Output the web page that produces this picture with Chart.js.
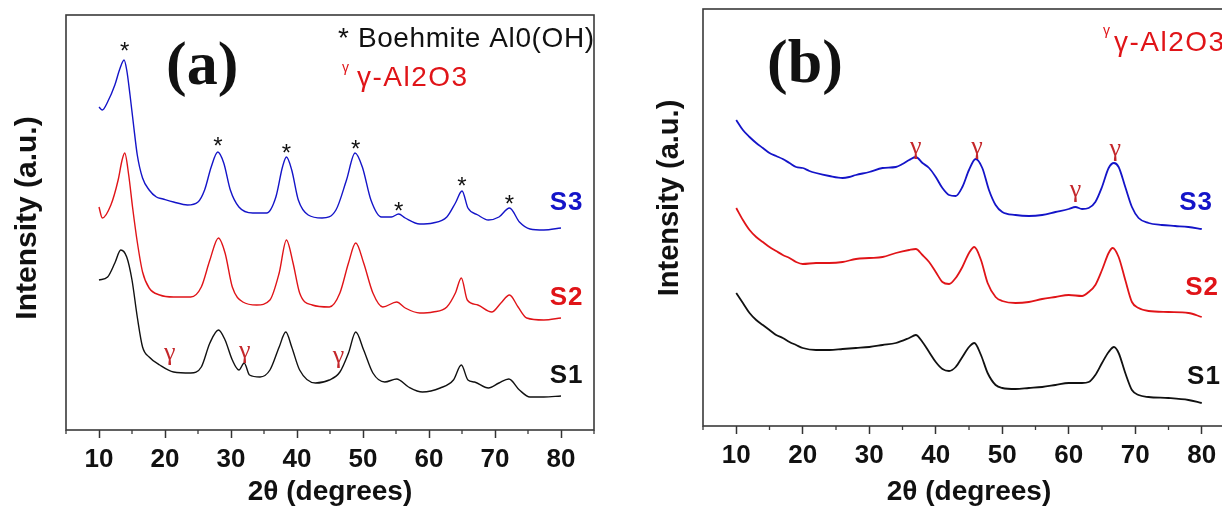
<!DOCTYPE html>
<html>
<head>
<meta charset="utf-8">
<script src="https://cdn.jsdelivr.net/npm/chart.js@4.4.1/dist/chart.umd.min.js"></script>
<style>
    html, body { margin: 0; padding: 0; background: #fff; overflow: hidden; }
    body { width: 1222px; height: 508px; position: relative; }
    #panel-a { position: absolute; left: 0; top: 0; width: 610px; height: 508px; }
    #panel-b { position: absolute; left: 600px; top: 0; width: 650px; height: 508px; }
</style>
</head>
<body>
<div id="panel-a"><canvas id="grafica-a"></canvas></div>
<div id="panel-b"><canvas id="grafica-b"></canvas></div>
<script>
// eje x comun
const ticksMayores = [10, 20, 30, 40, 50, 60, 70, 80];
const ticksMenores = [5, 15, 25, 35, 45, 55, 65, 75, 85];

// panel (a)
const aS3Ang = [10, 10.5, 11.3, 12.4, 13.1, 13.8, 14.2, 14.7, 15.2, 15.8, 16.6, 17.6, 18.7, 19.7, 21.3, 23.4, 25, 26, 27, 28, 28.9, 29.9, 31.2, 33.3, 35.4, 36.8, 37.8, 38.4, 39.2, 40.2, 41.7, 43.8, 45.9, 47.5, 48.8, 49.9, 51.2, 52.8, 54.3, 55.4, 56.4, 58.6, 60.6, 62.7, 64, 65, 65.9, 67.4, 69, 70.6, 72.2, 73.7, 75.3, 77.4, 80];
const aS3Int = [323, 320, 328, 345, 360, 370, 360, 335, 307, 275, 252, 240, 233, 231, 228, 225, 228, 240, 263, 278, 267, 240, 223, 217, 217, 233, 263, 273, 260, 230, 215, 212, 220, 250, 277, 263, 230, 213, 213, 216, 212, 206, 207, 213, 227, 239, 222, 215, 210, 213, 222, 208, 201, 200, 202];

const aS2Ang = [10, 10.5, 11.8, 12.9, 13.5, 13.9, 14.5, 15.1, 15.8, 16.6, 17.6, 19.2, 21.3, 23.9, 25.5, 26.8, 28.1, 29.1, 30.2, 31.8, 33.9, 35.9, 37.3, 38.4, 39.4, 40.4, 42.3, 44.9, 46.5, 47.8, 48.9, 50.1, 51.5, 53, 55.1, 56.4, 58.6, 60.6, 62.7, 64, 64.9, 65.8, 67.4, 69.5, 70.9, 72.2, 73.5, 74.8, 77.4, 80];
const aS2Int = [223, 212, 225, 250, 270, 277, 255, 222, 188, 158, 142, 135, 133, 133, 143, 170, 192, 177, 143, 128, 125, 130, 157, 190, 167, 137, 125, 123, 137, 167, 187, 167, 137, 123, 128, 122, 117, 118, 123, 137, 152, 130, 125, 118, 127, 135, 123, 112, 110, 112];

const aS1Ang = [10, 11.3, 12.4, 13.3, 14.2, 15, 15.8, 16.6, 17.6, 19.2, 21.3, 23.9, 25.5, 26.8, 28.1, 29.1, 30.2, 31.2, 32, 32.8, 34.4, 35.9, 37.3, 38.3, 39.2, 40.4, 42.8, 44.9, 46.5, 47.8, 48.9, 50.1, 51.5, 53.3, 55.1, 56.9, 59, 61.7, 63.7, 64.9, 65.9, 66.9, 69, 70.6, 72.1, 73.7, 75.3, 77.4, 80];
const aS1Int = [150, 153, 167, 180, 173, 150, 113, 83, 73, 65, 58, 57, 63, 87, 100, 90, 70, 60, 67, 55, 53, 60, 83, 98, 83, 60, 47, 50, 58, 77, 98, 80, 57, 48, 51, 43, 38, 42, 50, 65, 50, 48, 42, 47, 51, 40, 33, 33, 34];

const aBoehmiteAng = [13.9, 28.0, 38.4, 48.9, 55.4, 65.0, 72.2];
const aBoehmiteInt = [385, 290, 283, 287, 225, 250, 232];
const aGammaAng = [20.7, 32.1, 46.3];
const aGammaInt = [77, 79, 74];

// panel (b)
const bS3Ang = [10, 11, 12, 13, 14, 15, 16, 17, 18, 19, 20, 21, 22, 24, 26, 27, 28, 30, 32, 34, 35, 36, 37, 38, 39, 40, 41, 42, 43, 44, 45, 46, 47, 48, 49, 50, 52, 54, 56, 58, 60, 61, 62, 63, 64, 65, 66, 66.8, 67.5, 68.5, 69.5, 70.5, 72, 74, 76, 78, 80];
const bS3Int = [306, 296, 289, 283, 278, 273, 270, 267, 263, 259, 258, 255, 253, 250, 248, 249, 251, 254, 258, 259, 262, 266, 269, 263, 258, 249, 238, 231, 230, 239, 256, 267, 258, 236, 221, 214, 211, 210, 211, 214, 217, 219, 217, 218, 224, 239, 258, 263, 259, 239, 219, 208, 203, 201, 200, 199, 197];

const bS2Ang = [10, 11, 12, 13, 14, 15, 16, 17, 18, 19, 20, 22, 24, 26, 28, 30, 32, 34, 36, 37, 38, 39, 40, 41, 42, 43, 44, 45, 45.8, 46.8, 47.8, 49, 50, 52, 54, 56, 58, 60, 62, 63, 64, 65, 66, 66.6, 67.5, 68.5, 69.5, 70.5, 72, 75, 78, 80];
const bS2Int = [218, 206, 196, 189, 184, 179, 175, 171, 168, 164, 162, 163, 163, 164, 167, 168, 169, 173, 176, 177, 171, 164, 154, 144, 142, 148, 159, 173, 179, 166, 143, 129, 125, 123, 124, 127, 129, 131, 130, 134, 141, 156, 173, 178, 169, 146, 124, 118, 115, 114, 113, 109];

const bS1Ang = [10, 11, 12, 13, 14, 15, 16, 17, 18, 19, 20, 22, 24, 26, 28, 30, 32, 34, 36, 37, 38, 39, 40, 41, 42, 43, 44, 45, 45.8, 46.8, 47.8, 49, 50, 52, 54, 56, 58, 60, 62, 63, 64, 65, 66, 66.8, 67.5, 68.5, 69.5, 70.5, 72, 75, 78, 80];
const bS1Int = [133, 123, 113, 106, 101, 96, 91, 88, 84, 81, 78, 76, 76, 77, 78, 79, 81, 83, 88, 91, 84, 74, 64, 57, 55, 59, 69, 79, 83, 71, 53, 41, 38, 37, 38, 39, 41, 43, 43, 44, 51, 63, 74, 79, 73, 53, 36, 31, 29, 28, 26, 23];

const bGammaAng = [37.0, 46.2, 61.0, 67.0];
const bGammaInt = [279, 279, 236, 277];

const AZUL = '#1414c8';
const ROJO = '#e01418';
const NEGRO = '#111111';
const SANS = '"Liberation Sans", Arial, sans-serif';
const SERIF = '"Liberation Serif", "Times New Roman", serif';

function puntos(ang, int) {
    return ang.map((a, i) => ({ x: a, y: int[i] }));
}

function serie(ang, int, color, ancho) {
    return {
        data: puntos(ang, int),
        borderColor: color,
        borderWidth: ancho,
        pointRadius: 0,
        cubicInterpolationMode: 'monotone',
        fill: false
    };
}

// marco, ticks menores, titulo y y textos sobre el grafico
function decoracion(cfg) {
    return {
        id: 'decoracion',
        afterDatasetsDraw(chart) {
            const { ctx, chartArea: a } = chart;
            const sx = chart.scales.x, sy = chart.scales.y;
            ctx.save();
            ctx.strokeStyle = '#3a3a3a';
            ctx.lineWidth = 1.6;
            ctx.strokeRect(a.left, a.top, a.right - a.left, a.bottom - a.top);
            ctx.lineWidth = 1.3;
            ticksMenores.forEach(v => {
                const px = sx.getPixelForValue(v);
                ctx.beginPath();
                ctx.moveTo(px, a.bottom);
                ctx.lineTo(px, a.bottom + 4);
                ctx.stroke();
            });

            // titulo eje y
            ctx.save();
            ctx.translate(cfg.yTitulo.x, cfg.yTitulo.y);
            ctx.rotate(-Math.PI / 2);
            ctx.font = 'bold ' + cfg.yTitulo.size + 'px ' + SANS;
            ctx.fillStyle = NEGRO;
            ctx.textAlign = 'center';
            ctx.textBaseline = 'middle';
            ctx.fillText('Intensity (a.u.)', 0, 0);
            ctx.restore();

            // marcas sobre picos y etiquetas de serie (coordenadas de datos)
            cfg.marcas.forEach(m => {
                ctx.font = m.font;
                ctx.fillStyle = m.color;
                ctx.textAlign = m.align || 'center';
                ctx.textBaseline = 'middle';
                ctx.letterSpacing = m.espacio || '0px';
                m.ang.forEach((ang, i) => {
                    ctx.fillText(m.texto, sx.getPixelForValue(ang), sy.getPixelForValue(m.int[i]));
                });
            });

            // textos fijos (leyenda, letra del panel)
            cfg.textos.forEach(t => {
                ctx.font = t.font;
                ctx.fillStyle = t.color;
                ctx.textAlign = 'left';
                ctx.textBaseline = 'alphabetic';
                ctx.letterSpacing = t.espacio || '0px';
                ctx.fillText(t.texto, t.x, t.y);
            });
            ctx.restore();
        }
    };
}

function crearGrafica(id, datasets, yMax, ejeY, ejeX, padding, cfg) {
    const ctx = document.getElementById(id);
    return new Chart(ctx, {
        type: 'line',
        data: { datasets },
        options: {
            responsive: true,
            maintainAspectRatio: false,
            animation: false,
            layout: { padding },
            plugins: {
                legend: { display: false },
                tooltip: { enabled: false }
            },
            scales: {
                x: {
                    type: 'linear',
                    min: 5,
                    max: 85,
                    afterBuildTicks: s => { s.ticks = ticksMayores.map(v => ({ value: v })); },
                    afterFit: s => { s.height = ejeX; },
                    ticks: {
                        font: { family: SANS, size: 26, weight: 'bold' },
                        color: NEGRO,
                        padding: 6,
                        maxRotation: 0,
                        autoSkip: false
                    },
                    grid: {
                        display: true,
                        drawOnChartArea: false,
                        drawTicks: true,
                        tickLength: 8,
                        tickColor: '#333',
                        tickWidth: 1.5
                    },
                    border: { display: false },
                    title: {
                        display: true,
                        text: '2θ (degrees)',
                        color: NEGRO,
                        font: { family: SANS, size: 28, weight: 'bold', lineHeight: 1.1 },
                        padding: { top: 0, bottom: 0 }
                    }
                },
                y: {
                    type: 'linear',
                    min: 0,
                    max: yMax,
                    afterFit: s => { s.width = ejeY; },
                    ticks: { display: false },
                    grid: { display: false },
                    border: { display: false }
                }
            }
        },
        plugins: [decoracion(cfg)]
    });
}

const marcaS = 'bold 26px ' + SANS;

crearGrafica('grafica-a', [
    serie(aS3Ang, aS3Int, AZUL, 1.4),
    serie(aS2Ang, aS2Int, ROJO, 1.4),
    serie(aS1Ang, aS1Int, NEGRO, 1.4)
], 415, 66, 78, { top: 15, right: 16, bottom: 0, left: 0 }, {
    yTitulo: { x: 28, y: 218, size: 30 },
    marcas: [
        { texto: '*', ang: aBoehmiteAng, int: aBoehmiteInt.map(v => v - 7), font: '24px ' + SANS, color: NEGRO },
        { texto: 'γ', ang: aGammaAng, int: aGammaInt, font: '26px ' + SERIF, color: '#c4262a' },
        { texto: 'S3', ang: [78.3], int: [227], font: marcaS, color: AZUL, align: 'left', espacio: '1px' },
        { texto: 'S2', ang: [78.3], int: [132], font: marcaS, color: ROJO, align: 'left', espacio: '1px' },
        { texto: 'S1', ang: [78.3], int: [54], font: marcaS, color: NEGRO, align: 'left', espacio: '1px' }
    ],
    textos: [
        { texto: '(a)', x: 166, y: 84, font: 'bold 62px ' + SERIF, color: NEGRO },
        { texto: '* Boehmite Al0(OH)', x: 338, y: 47, font: '28px ' + SANS, color: NEGRO, espacio: '0.6px' },
        { texto: 'γ', x: 342, y: 72, font: '14px ' + SANS, color: ROJO },
        { texto: 'γ-Al2O3', x: 357, y: 86, font: '28px ' + SANS, color: ROJO, espacio: '1.5px' }
    ]
});

crearGrafica('grafica-b', [
    serie(bS3Ang, bS3Int, AZUL, 1.8),
    serie(bS2Ang, bS2Int, ROJO, 1.8),
    serie(bS1Ang, bS1Int, NEGRO, 1.8)
], 417, 103, 82, { top: 9, right: 15, bottom: 0, left: 0 }, {
    yTitulo: { x: 70, y: 198, size: 29 },
    marcas: [
        { texto: 'γ', ang: bGammaAng, int: bGammaInt, font: '26px ' + SERIF, color: '#c4262a' },
        { texto: 'S3', ang: [76.6], int: [223], font: marcaS, color: AZUL, align: 'left', espacio: '1px' },
        { texto: 'S2', ang: [77.5], int: [138], font: marcaS, color: ROJO, align: 'left', espacio: '1px' },
        { texto: 'S1', ang: [77.8], int: [49], font: marcaS, color: NEGRO, align: 'left', espacio: '1px' }
    ],
    textos: [
        { texto: '(b)', x: 167, y: 82, font: 'bold 62px ' + SERIF, color: NEGRO },
        { texto: 'γ', x: 503, y: 35, font: '14px ' + SANS, color: ROJO },
        { texto: 'γ-Al2O3', x: 514, y: 51, font: '28px ' + SANS, color: ROJO, espacio: '1.5px' }
    ]
});
</script>
</body>
</html>
